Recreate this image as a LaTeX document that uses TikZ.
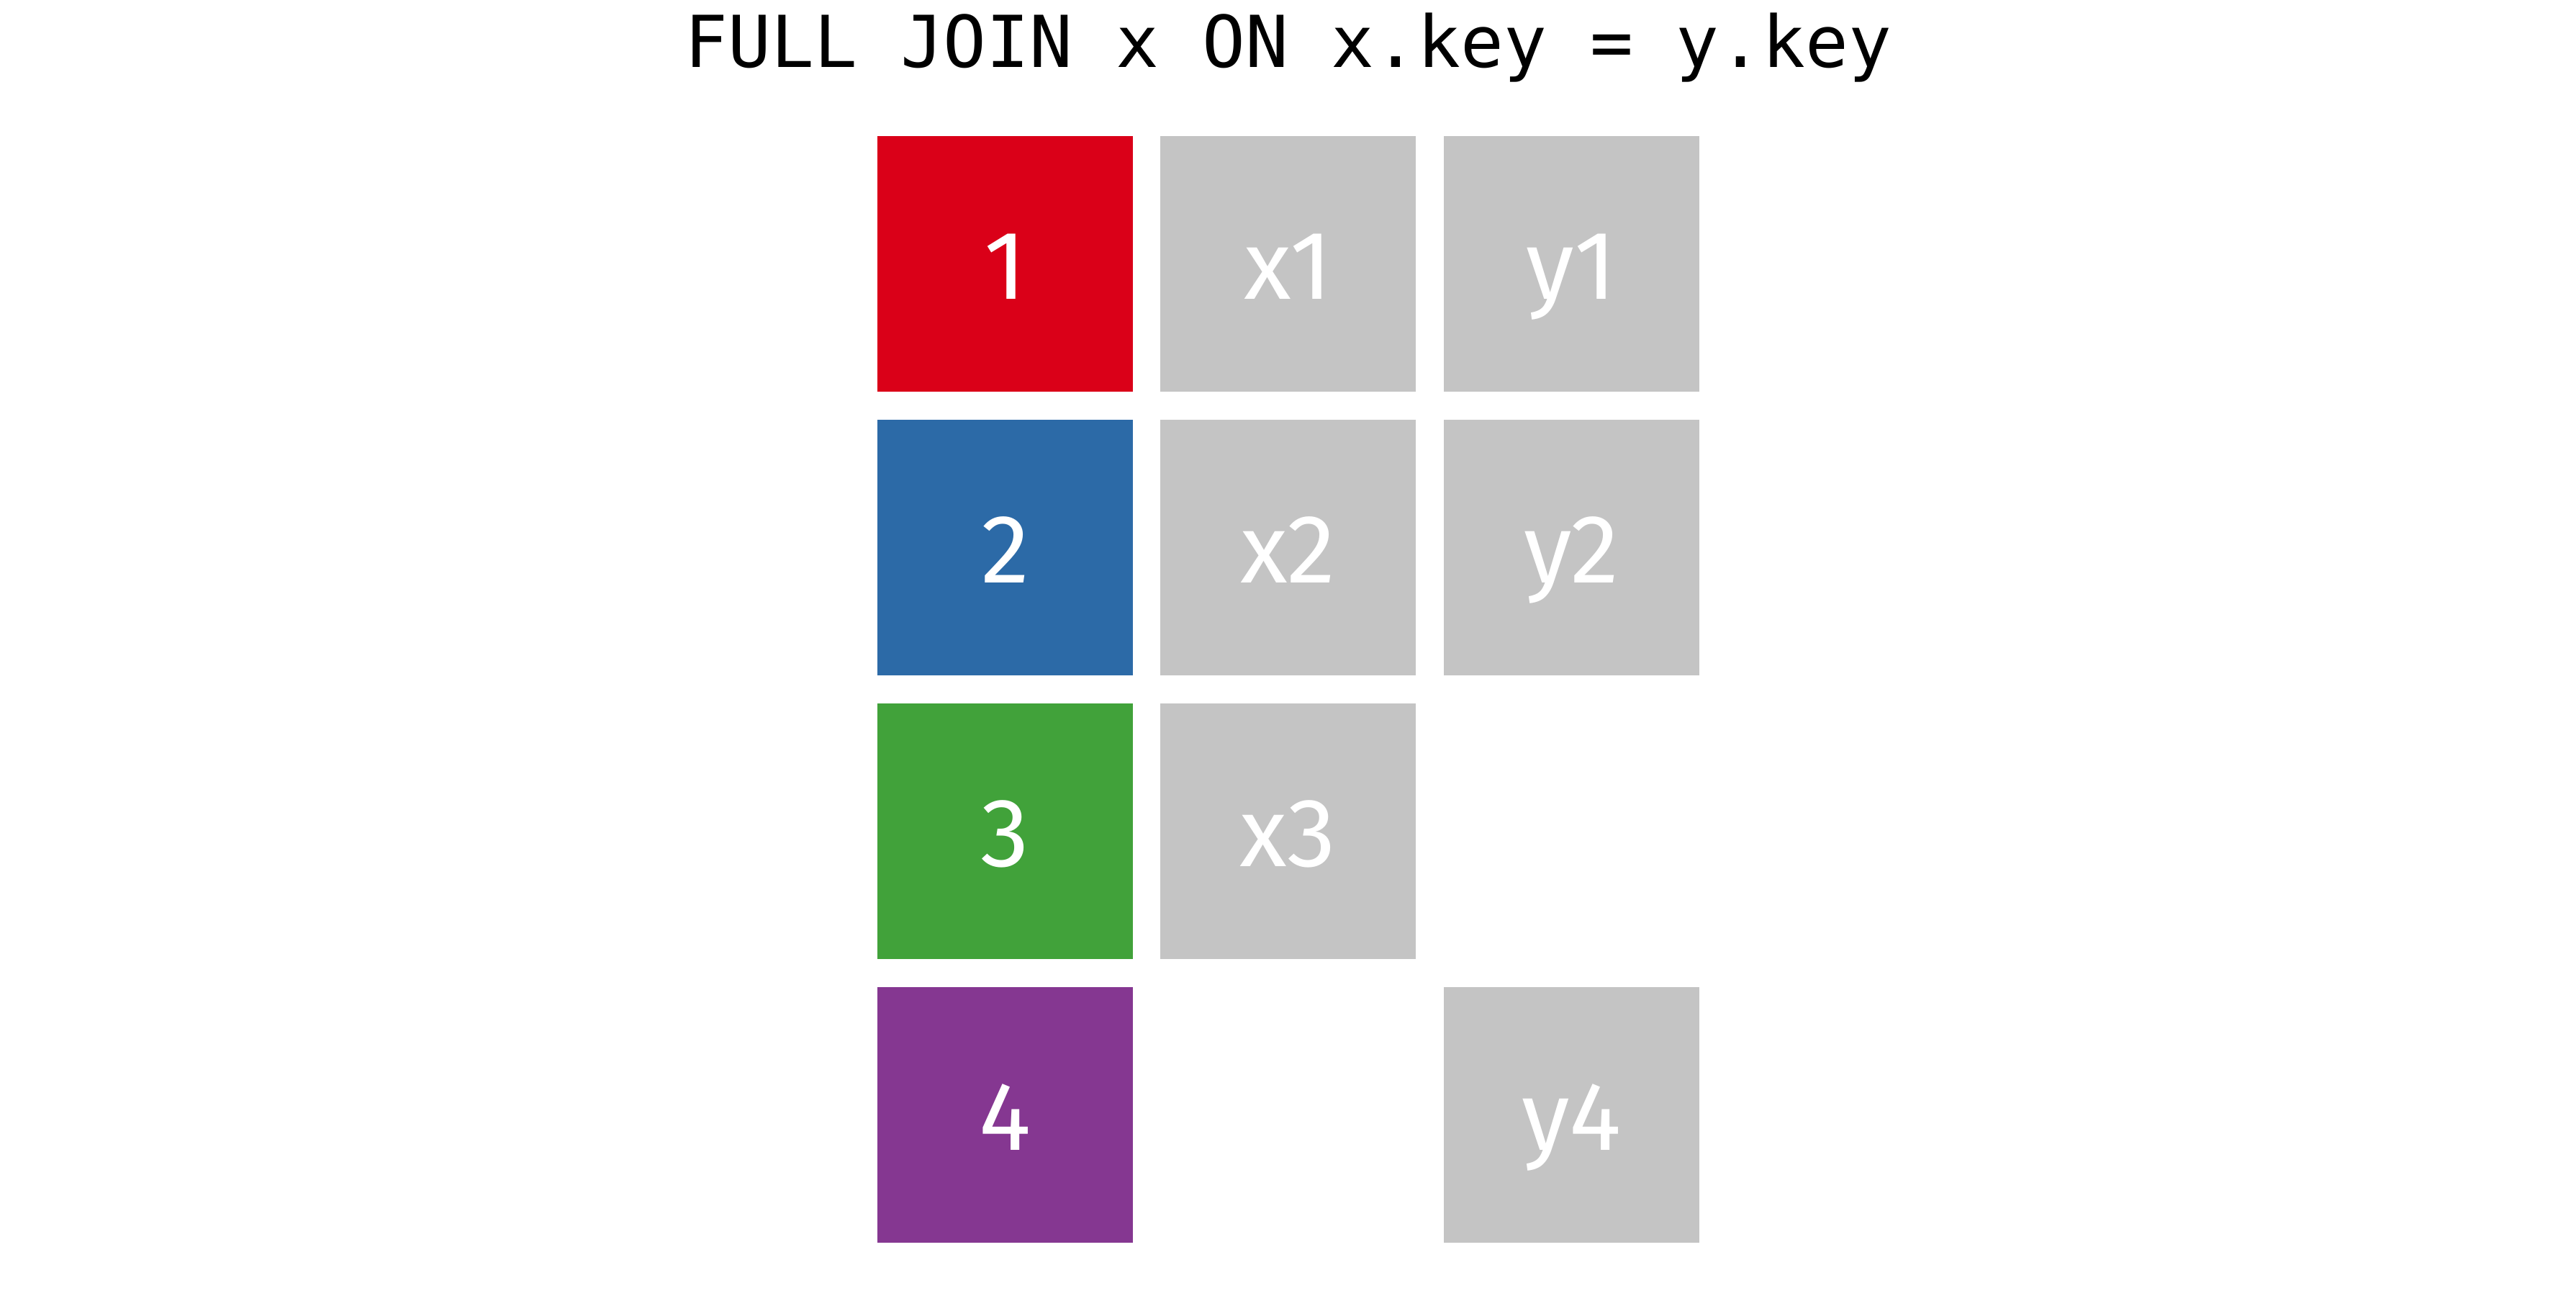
\documentclass[tikz,border=0pt]{standalone}
\usepackage{fontspec}
\usepackage{xcolor}
\newfontfamily\cellfont{Fira Sans}
\newfontfamily\titlefont{DejaVu Sans Mono}
\definecolor{keyred}{RGB}{218,0,24}
\definecolor{keyblue}{RGB}{44,106,167}
\definecolor{keygreen}{RGB}{65,162,58}
\definecolor{keypurple}{RGB}{133,55,145}
\definecolor{valgray}{RGB}{196,196,196}
\tikzset{
  cell/.style={minimum size=3.55cm, inner sep=0pt, text=white,
    text height=0.98cm, text depth=0pt,
    font=\cellfont\fontsize{38.5}{40}\selectfont},
  keycell/.style={cell, fill=#1},
  valcell/.style={cell, fill=valgray}
}

\begin{document}
\begin{tikzpicture}
    \useasboundingbox (0,0) rectangle (35.79,-18.24);
    \node [font=\titlefont\fontsize{28.3}{30}\selectfont, anchor=base] (title) at (17.90,-0.93) {FULL JOIN x ON x.key = y.key};
    % key column
    \node [keycell=keyred] (k1) at (13.965,-3.665) {1};
    \node [keycell=keyblue] (k2) at (13.965,-7.605) {2};
    \node [keycell=keygreen] (k3) at (13.965,-11.545) {3};
    \node [keycell=keypurple] (k4) at (13.965,-15.485) {4};
    % x values
    \node [valcell] (x1) at (17.895,-3.665) {x1};
    \node [valcell] (x2) at (17.895,-7.605) {x2};
    \node [valcell] (x3) at (17.895,-11.545) {x3};
    % y values
    \node [valcell] (y1) at (21.835,-3.665) {y1};
    \node [valcell] (y2) at (21.835,-7.605) {y2};
    \node [valcell] (y4) at (21.835,-15.485) {y4};
  \end{tikzpicture}
\end{document}
